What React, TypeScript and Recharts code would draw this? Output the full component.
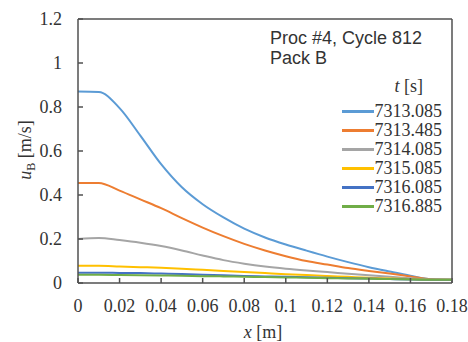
import React from 'react';
import { LineChart, Line, XAxis, YAxis, ReferenceLine, Legend } from 'recharts';

// x position along the pack [m]
const xPos = [0, 0.01, 0.02, 0.03, 0.04, 0.05, 0.06, 0.07, 0.08, 0.09, 0.1, 0.11, 0.12, 0.13, 0.14, 0.15, 0.16, 0.17, 0.18];

// u_B [m/s] per time step
const u7313_085 = [0.87, 0.868, 0.795, 0.67, 0.54, 0.435, 0.358, 0.298, 0.247, 0.207, 0.175, 0.147, 0.12, 0.095, 0.072, 0.052, 0.033, 0.017, 0.015];
const u7313_485 = [0.455, 0.455, 0.42, 0.38, 0.34, 0.295, 0.252, 0.213, 0.178, 0.148, 0.122, 0.1, 0.084, 0.068, 0.055, 0.043, 0.03, 0.017, 0.015];
const u7314_085 = [0.2, 0.205, 0.195, 0.183, 0.168, 0.148, 0.125, 0.104, 0.088, 0.075, 0.065, 0.057, 0.05, 0.042, 0.035, 0.028, 0.022, 0.016, 0.015];
const u7315_085 = [0.078, 0.078, 0.075, 0.072, 0.069, 0.065, 0.06, 0.055, 0.05, 0.045, 0.04, 0.036, 0.032, 0.028, 0.024, 0.021, 0.018, 0.015, 0.015];
const u7316_085 = [0.047, 0.047, 0.046, 0.045, 0.043, 0.041, 0.038, 0.035, 0.032, 0.03, 0.028, 0.026, 0.024, 0.022, 0.02, 0.018, 0.016, 0.015, 0.015];
const u7316_885 = [0.037, 0.037, 0.036, 0.035, 0.034, 0.033, 0.031, 0.03, 0.028, 0.027, 0.025, 0.024, 0.022, 0.021, 0.019, 0.018, 0.016, 0.015, 0.015];

const seriesNames = ['7313.085', '7313.485', '7314.085', '7315.085', '7316.085', '7316.885'];
const seriesValues = [u7313_085, u7313_485, u7314_085, u7315_085, u7316_085, u7316_885];
const seriesColors = ['#5B9BD5', '#ED7D31', '#A5A5A5', '#FFC000', '#4472C4', '#70AD47'];

const xTicks = [0, 0.02, 0.04, 0.06, 0.08, 0.1, 0.12, 0.14, 0.16, 0.18];
const yTicks = [0, 0.2, 0.4, 0.6, 0.8, 1, 1.2];

const rows = xPos.map((x, i) => {
  const r: Record<string, number> = { x };
  seriesNames.forEach((n, k) => { r[n] = seriesValues[k][i]; });
  return r;
});

const AXIS = '#505050';
const SERIF = "'Liberation Serif', 'DejaVu Serif', serif";
const SANS = "'Liberation Sans', Arial, sans-serif";

const fmt = (v: number) => String(Number(v.toFixed(2)));

const XTick = ({ x, y, payload }: any) => (
  <g>
    <line x1={x} y1={y} x2={x} y2={y - 5} stroke={AXIS} strokeWidth={1.5} />
    <text x={x} y={y + 29} textAnchor="middle" style={{ fontFamily: SERIF, fontSize: 18 }} fill="#333">
      {fmt(payload.value)}
    </text>
  </g>
);

const YTick = ({ x, y, payload }: any) => (
  <g>
    <line x1={x} y1={y} x2={x + 5} y2={y} stroke={AXIS} strokeWidth={1.5} />
    <text x={x - 16} y={y + 6} textAnchor="end" style={{ fontFamily: SERIF, fontSize: 18 }} fill="#333">
      {fmt(payload.value)}
    </text>
  </g>
);

const LegendBox = ({ payload }: any) => (
  <div style={{ width: 190, color: '#333' }}>
    <div style={{ fontFamily: SANS, fontSize: 18, lineHeight: '20px', paddingLeft: 8 }}>
      <div>Proc #4, Cycle 812</div>
      <div>Pack B</div>
    </div>
    <div style={{ fontFamily: SERIF, fontSize: 18, lineHeight: '20px', textAlign: 'right', paddingRight: 29, marginTop: 8 }}>
      <i>t</i> [s]
    </div>
    <div style={{ marginTop: 6 }}>
      {(payload || []).map((p: any) => (
        <div key={p.value} style={{ display: 'flex', justifyContent: 'flex-end', alignItems: 'center', height: 19, paddingRight: 10 }}>
          <span style={{ display: 'inline-block', width: 32, height: 2.5, background: p.color, marginRight: 1 }} />
          <span style={{ fontFamily: SERIF, fontSize: 18, lineHeight: '19px' }}>{p.value}</span>
        </div>
      ))}
    </div>
  </div>
);

export default function App() {
  return (
    <div style={{ position: 'absolute', left: 0, top: 0, width: 468, height: 342, background: '#fff' }}>
      <LineChart width={468} height={342} data={rows} margin={{ top: 19, right: 16, left: 0, bottom: 0 }}>
        <XAxis
          dataKey="x"
          type="number"
          domain={[0, 0.18]}
          ticks={xTicks}
          interval={0}
          tickSize={0}
          tickMargin={0}
          tickLine={false}
          tick={<XTick />}
          height={59}
          axisLine={{ stroke: AXIS, strokeWidth: 1.5 }}
        />
        <YAxis
          type="number"
          domain={[0, 1.2]}
          ticks={yTicks}
          interval={0}
          tickSize={0}
          tickMargin={0}
          tickLine={false}
          tick={<YTick />}
          width={78}
          axisLine={{ stroke: AXIS, strokeWidth: 1.5 }}
        />
        <ReferenceLine y={1.2} stroke={AXIS} strokeWidth={1.5} />
        <ReferenceLine x={0.18} stroke={AXIS} strokeWidth={1.5} />
        <Legend
          layout="vertical"
          align="center"
          verticalAlign="middle"
          content={<LegendBox />}
          wrapperStyle={{ left: 262, top: 28, width: 190 }}
        />
        {seriesNames.map((n, k) => (
          <Line
            key={n}
            dataKey={n}
            name={n}
            type="monotone"
            stroke={seriesColors[k]}
            strokeWidth={2}
            dot={false}
            isAnimationActive={false}
          />
        ))}
        <text transform="translate(31,150) rotate(-90)" textAnchor="middle" style={{ fontFamily: SERIF, fontSize: 18 }} fill="#333">
          <tspan fontStyle="italic">u</tspan>
          <tspan fontSize={12} dy={4}>B</tspan>
          <tspan dy={-4}> [m/s]</tspan>
        </text>
        <text x={263} y={338} textAnchor="middle" style={{ fontFamily: SERIF, fontSize: 18 }} fill="#333">
          <tspan fontStyle="italic">x</tspan> [m]
        </text>
      </LineChart>
    </div>
  );
}
